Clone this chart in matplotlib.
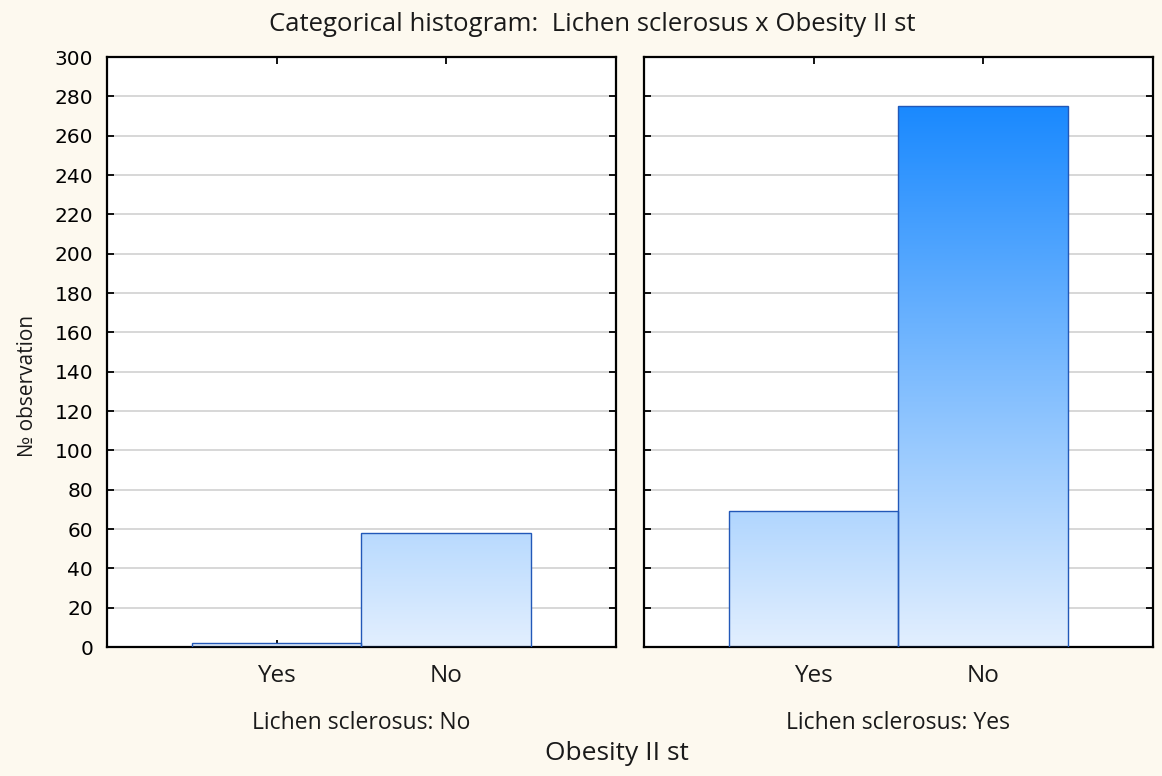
import matplotlib
matplotlib.use('Agg')
import matplotlib.pyplot as plt
import numpy as np
from matplotlib.colors import LinearSegmentedColormap

# ---------------- data ----------------
categories = ['Yes', 'No']
panel_labels = ['Lichen sclerosus: No', 'Lichen sclerosus: Yes']
counts_ls_no = [2, 58]
counts_ls_yes = [69, 275]
y_ticks = list(range(0, 301, 20))

title = 'Categorical histogram:  Lichen sclerosus x Obesity II st'
x_title = 'Obesity II st'
y_title = '№ observation'

# --------------------------------------
BG = '#fdf9ef'
TXT_FONT = ['Open Sans', 'DejaVu Sans']
NUM_FONT = ['DejaVu Sans']

grad_cmap = LinearSegmentedColormap.from_list('statgrad', ['#e2effe', '#0880ff'])

fig = plt.figure(figsize=(11.62, 7.76), dpi=100, facecolor=BG)
ax1 = fig.add_axes([0.0921, 0.1662, 0.438, 0.7603])
ax2 = fig.add_axes([0.5542, 0.1662, 0.438, 0.7603])

grad = np.linspace(0, 1, 400).reshape(-1, 1)

for ax, vals, plab in [(ax1, counts_ls_no, panel_labels[0]),
                       (ax2, counts_ls_yes, panel_labels[1])]:
    ax.set_facecolor('white')
    ax.set_axisbelow(True)
    ax.yaxis.grid(True, color='#d4d4d4', lw=1.3)
    x = np.arange(len(categories))
    bars = ax.bar(x, vals, width=1.0, facecolor='none',
                  edgecolor='#2258b8', lw=1.0, zorder=3)
    for b in bars:
        im = ax.imshow(grad, cmap=grad_cmap, origin='lower', aspect='auto',
                       extent=[-1, 2, 0, 300], zorder=2, interpolation='bilinear')
        im.set_clip_path(b)
    ax.set_xlim(-1, 2)
    ax.set_ylim(0, 300)
    ax.set_xticks(x)
    ax.set_xticklabels(categories, fontsize=17.5, family=TXT_FONT, color='#1a1a1a')
    ax.set_yticks(y_ticks)
    ax.tick_params(direction='in', top=True, right=True, length=5, width=1.3,
                   color='black')
    ax.tick_params(axis='x', pad=12)
    for s in ax.spines.values():
        s.set_linewidth(1.6)
        s.set_color('black')
    ax.set_xlabel(plab, fontsize=16.5, family=TXT_FONT, color='#1a1a1a', labelpad=17)

ax1.set_yticklabels([str(v) for v in y_ticks], fontsize=14.5, family=NUM_FONT,
                    color='black')
ax1.tick_params(axis='y', pad=10)
ax2.set_yticklabels([])

fig.text(0.51, 0.969, title, ha='center', va='center', fontsize=18.5,
         family=TXT_FONT, color='#1a1a1a')
fig.text(0.531, 0.029, x_title, ha='center', va='center', fontsize=19,
         family=TXT_FONT, color='#1a1a1a')
fig.text(0.024, 0.503, y_title, ha='center', va='center', rotation=90,
         fontsize=15, family=TXT_FONT, color='#1a1a1a')

fig.savefig('out.png', dpi=100, facecolor=BG)
